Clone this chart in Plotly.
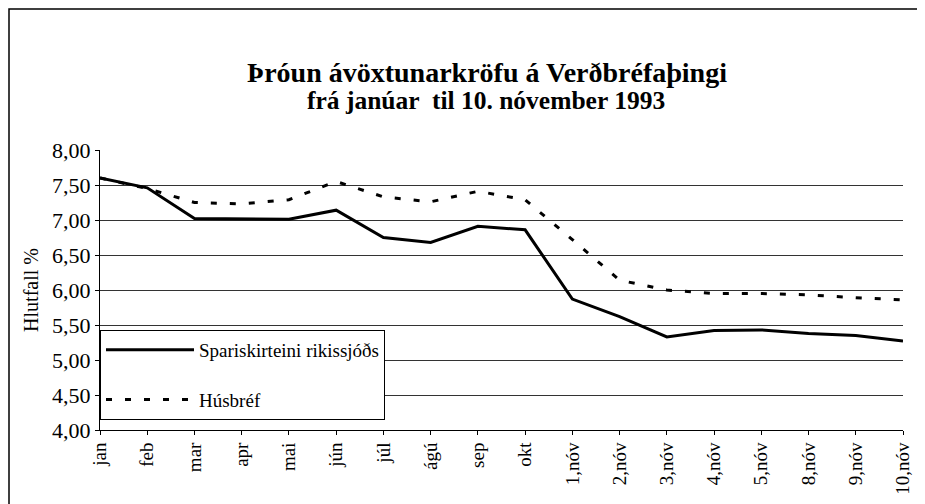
import plotly.graph_objects as go

categories = ["jan", "feb", "mar", "apr", "mai", "jún", "júl", "ágú", "sep", "okt",
              "1,nóv", "2,nóv", "3,nóv", "4,nóv", "5,nóv", "8,nóv", "9,nóv", "10,nóv"]
spariskirteini = [7.60, 7.46, 7.02, 7.01, 7.01, 7.14, 6.75, 6.68, 6.91, 6.86,
                  5.87, 5.62, 5.33, 5.42, 5.43, 5.38, 5.35, 5.27]
husbref = [7.60, 7.45, 7.25, 7.23, 7.29, 7.55, 7.33, 7.26, 7.41, 7.29,
           6.72, 6.14, 6.00, 5.95, 5.95, 5.93, 5.89, 5.86]
y_ticks = [4.0, 4.5, 5.0, 5.5, 6.0, 6.5, 7.0, 7.5, 8.0]
title_line1 = "Þróun ávöxtunarkröfu á Verðbréfaþingi"
title_line2 = "frá janúar  til 10. nóvember 1993"

SERIF = "Liberation Serif, Times New Roman, Times, serif"

fig = go.Figure()
fig.add_trace(go.Scatter(
    x=categories, y=spariskirteini, mode="lines",
    name="Spariskirteini rikissjóðs", legendgroup="a",
    line=dict(color="black", width=3),
))
fig.add_trace(go.Scatter(
    x=categories, y=husbref, mode="lines",
    name="Húsbréf", legendgroup="b",
    line=dict(color="black", width=3, dash="6px,13px"),
))

# page has an 8px body margin; figure occupies page x 8..925, y 8..504
OFF = 8
W, H = 925 - OFF, 504 - OFF
# plot area in page pixels: x 100..903, y 150..430
L, R, T, B = 100 - OFF, 925 - 903, 150 - OFF, 504 - 430
pw, ph = W - L - R, H - T - B

def px_x(x):
    return (x - OFF - L) / pw

def px_y(y):
    return (H - B - (y - OFF)) / ph

fig.add_shape(type="rect", xref="paper", yref="paper",
              x0=px_x(9), x1=px_x(921), y0=px_y(506), y1=px_y(9),
              line=dict(color="black", width=1.5), fillcolor="rgba(0,0,0,0)",
              layer="below")

fig.add_annotation(
    text="<b>" + title_line2 + "</b>", xref="paper", yref="paper",
    x=px_x(486), y=px_y(100), xanchor="center", yanchor="middle",
    showarrow=False, font=dict(family=SERIF, size=25.5, color="black"),
)

fig.update_layout(
    width=W, height=H,
    margin=dict(l=L, r=R, t=T, b=B),
    paper_bgcolor="white", plot_bgcolor="white",
    separators=", ",
    font=dict(family=SERIF, color="black"),
    title=dict(
        text="<b>" + title_line1 + "</b>",
        x=px_x(487), xanchor="center", xref="paper",
        y=1 - (72 - OFF) / H, yanchor="middle", yref="container",
        font=dict(family=SERIF, size=28, color="black"),
    ),
    showlegend=True,
    legend=dict(
        x=0, xanchor="left", y=px_y(420), yanchor="bottom",
        bgcolor="white", bordercolor="black", borderwidth=1,
        font=dict(family=SERIF, size=19, color="black"),
        traceorder="grouped", tracegroupgap=22, itemwidth=88,
    ),
    xaxis=dict(
        type="category", range=[0, len(categories) - 1],
        tickangle=-90, tickfont=dict(family=SERIF, size=19, color="black"),
        showgrid=False, showline=True, linecolor="black", linewidth=1,
        ticks="outside", tickcolor="black", ticklen=4,
        zeroline=False, automargin=False,
    ),
    yaxis=dict(
        range=[4, 8], tickvals=y_ticks, tickformat=".2f",
        tickfont=dict(family=SERIF, size=22, color="black"),
        showgrid=True, gridcolor="#333333", gridwidth=1,
        showline=True, linecolor="black", linewidth=1,
        ticks="outside", tickcolor="black", ticklen=4,
        zeroline=False, automargin=False,
        title=dict(text="Hlutfall %", font=dict(family=SERIF, size=20, color="black"), standoff=8),
    ),
)

fig.write_html("out.html")
